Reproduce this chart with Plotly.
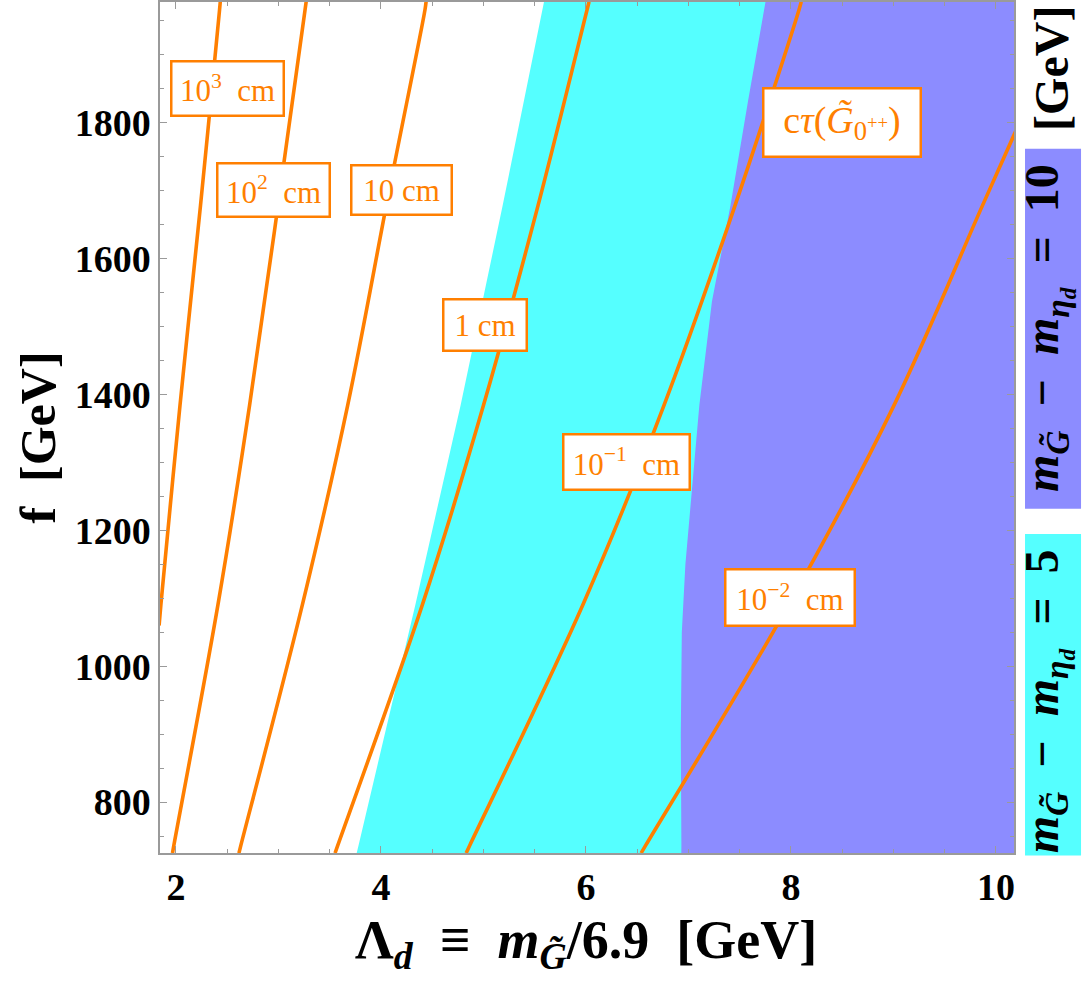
import plotly.graph_objects as go

# ---------------- data ----------------
# ctau contour lines: f [GeV] values and Lambda_d [GeV] values
f_1e3 = [1060, 1091, 1384, 1678, 1966, 1978]
L_1e3 = [1.835, 1.853, 2.039, 2.239, 2.425, 2.432]

f_1e2 = [725, 737, 1091, 1384, 1966, 1978]
L_1e2 = [1.966, 1.980, 2.410, 2.718, 3.259, 3.270]

f_1e1 = [725, 737, 1091, 1384, 1700, 1966, 1978]
L_1e1 = [2.614, 2.634, 3.234, 3.675, 4.08, 4.429, 4.440]

f_1e0 = [725, 737, 1091, 1384, 1678, 1966, 1978]
L_1e0 = [3.552, 3.580, 4.405, 5.000, 5.532, 6.010, 6.030]

f_1em1 = [725, 737, 1091, 1384, 1678, 1966, 1978]
L_1em1 = [4.831, 4.868, 5.971, 6.761, 7.454, 8.078, 8.100]

f_1em2 = [725, 737, 1091, 1384, 1678, 1790]
L_1em2 = [6.538, 6.585, 7.980, 9.005, 9.868, 10.200]

# boundary of the region m_G - m_eta = 5 (cyan) : left edge
f_cyan = [720, 737, 1091, 1384, 1678, 1966, 1985]
L_cyan = [3.755, 3.782, 4.336, 4.777, 5.187, 5.575, 5.600]

# boundary of the region m_G - m_eta = 10 (purple) : left edge
f_purp = [720, 737, 900, 1050, 1150, 1250, 1384, 1537, 1678, 1831, 1985]
L_purp = [6.930, 6.931, 6.925, 6.935, 6.970, 7.030, 7.106, 7.229, 7.410, 7.580, 7.760]

# contour labels: text, Lambda_d, f
labels = ["10<sup>3</sup>  cm", "10<sup>2</sup>  cm", "10 cm", "1 cm",
          "10<sup>\u22121</sup>  cm", "10<sup>\u22122</sup>  cm"]
label_L = [2.507, 2.956, 4.205, 5.010, 6.400, 7.995]
label_f = [1851, 1701, 1701, 1503, 1300, 1101]
label_w = [110, 110, 98, 81, 124, 127]
label_h = [52, 51, 47, 49, 53, 54]

x_ticks = [2, 4, 6, 8, 10]
y_ticks = [800, 1000, 1200, 1400, 1600, 1800]

X_RANGE = [1.844, 10.176]
Y_RANGE = [725.1, 1977.7]

ORANGE = "#FF7F00"
CYAN = "#55FFFF"
PURPLE = "#8C8CFF"
SERIF = "Liberation Serif"

fig = go.Figure()

# cyan region (extends to the right edge)
fig.add_trace(go.Scatter(
    x=L_cyan + [10.5, 10.5], y=f_cyan + [f_cyan[-1], f_cyan[0]],
    fill="toself", fillcolor=CYAN, mode="lines", line=dict(width=0, color=CYAN),
    hoverinfo="skip", showlegend=False))
# purple region
fig.add_trace(go.Scatter(
    x=L_purp + [10.5, 10.5], y=f_purp + [f_purp[-1], f_purp[0]],
    fill="toself", fillcolor=PURPLE, mode="lines", line=dict(width=0, color=PURPLE),
    hoverinfo="skip", showlegend=False))

for xs, ys in [(L_1e3, f_1e3), (L_1e2, f_1e2), (L_1e1, f_1e1), (L_1e0, f_1e0),
               (L_1em1, f_1em1), (L_1em2, f_1em2)]:
    fig.add_trace(go.Scatter(x=xs, y=ys, mode="lines", line=dict(color=ORANGE, width=3.6, shape="spline"),
                             hoverinfo="skip", showlegend=False))

annotations = []
for t, lx, ly, w, h in zip(labels, label_L, label_f, label_w, label_h):
    annotations.append(dict(x=lx, y=ly, xref="x", yref="y", text=t, showarrow=False,
                            font=dict(family=SERIF, size=31, color=ORANGE),
                            bgcolor="white", bordercolor=ORANGE, borderwidth=2.5,
                            width=w, height=h, borderpad=0))
annotations.append(dict(x=8.498, y=1800.7, xref="x", yref="y",
                        text="c<i>\u03c4</i>(<i>G\u0303</i><sub>0<sup>++</sup></sub>)",
                        showarrow=False, font=dict(family=SERIF, size=38, color=ORANGE),
                        bgcolor="white", bordercolor=ORANGE, borderwidth=2.5,
                        width=155, height=66, borderpad=0))

# axis titles
annotations.append(dict(x=0.499, y=-0.106, xref="paper", yref="paper", showarrow=False,
                        text="<b>\u039b<sub><i>d</i></sub>  \u2261  <i>m</i><sub><i>G\u0303</i></sub>/6.9  [GeV]</b>",
                        font=dict(family=SERIF, size=54, color="black"),
                        xanchor="center", yanchor="middle"))
annotations.append(dict(x=-0.143, y=0.488, xref="paper", yref="paper", showarrow=False,
                        text="<b>f  [GeV]</b>", textangle=-90,
                        font=dict(family=SERIF, size=50, color="black"),
                        xanchor="center", yanchor="middle"))

# right-side legend
RX = 1.0395
annotations.append(dict(x=RX, y=0.6166, xref="paper", yref="paper", showarrow=False,
                        text="<b><i>m</i><sub><i>G\u0303</i></sub>  \u2212  <i>m</i><sub><i>\u03b7<sub>d</sub></i></sub>  =  10</b>",
                        textangle=-90, font=dict(family=SERIF, size=48, color="black"),
                        xanchor="center", yanchor="middle"))
annotations.append(dict(x=RX, y=0.178, xref="paper", yref="paper", showarrow=False,
                        text="<b><i>m</i><sub><i>G\u0303</i></sub>  \u2212  <i>m</i><sub><i>\u03b7<sub>d</sub></i></sub>  =  5</b>",
                        textangle=-90, font=dict(family=SERIF, size=48, color="black"),
                        xanchor="center", yanchor="middle"))
annotations.append(dict(x=1.0445, y=0.9214, xref="paper", yref="paper", showarrow=False,
                        text="<b>[GeV]</b>", textangle=-90,
                        font=dict(family=SERIF, size=48, color="black"),
                        xanchor="center", yanchor="middle"))

shapes = [
    dict(type="rect", xref="paper", yref="paper", x0=1.0129, x1=1.0785, y0=0.4045, y1=0.8277,
         fillcolor=PURPLE, line=dict(width=0), layer="below"),
    dict(type="rect", xref="paper", yref="paper", x0=1.0129, x1=1.0785, y0=-0.003, y1=0.375,
         fillcolor=CYAN, line=dict(width=0), layer="below"),
]

axis_common = dict(showgrid=False, zeroline=False, ticks="inside", mirror="ticks",
                   showline=True, linecolor="#9a9a9a", linewidth=1.5,
                   tickcolor="#9a9a9a", ticklen=7, tickwidth=1.2,
                   tickfont=dict(family=SERIF, size=38, color="black", weight="bold"))

fig.update_layout(
    width=1084, height=982,
    margin=dict(l=160, r=70, t=0, b=129),
    paper_bgcolor="white", plot_bgcolor="white",
    xaxis=dict(range=X_RANGE, tickvals=x_ticks, ticktext=[str(v) for v in x_ticks],
               minor=dict(ticks="inside", dtick=0.5, tick0=0, ticklen=4, tickcolor="#9a9a9a"),
               **axis_common),
    yaxis=dict(range=Y_RANGE, tickvals=y_ticks, ticktext=[str(v) for v in y_ticks],
               minor=dict(ticks="inside", dtick=50, tick0=0, ticklen=4, tickcolor="#9a9a9a"),
               **axis_common),
    annotations=annotations, shapes=shapes,
)

fig.write_html("out.html")
